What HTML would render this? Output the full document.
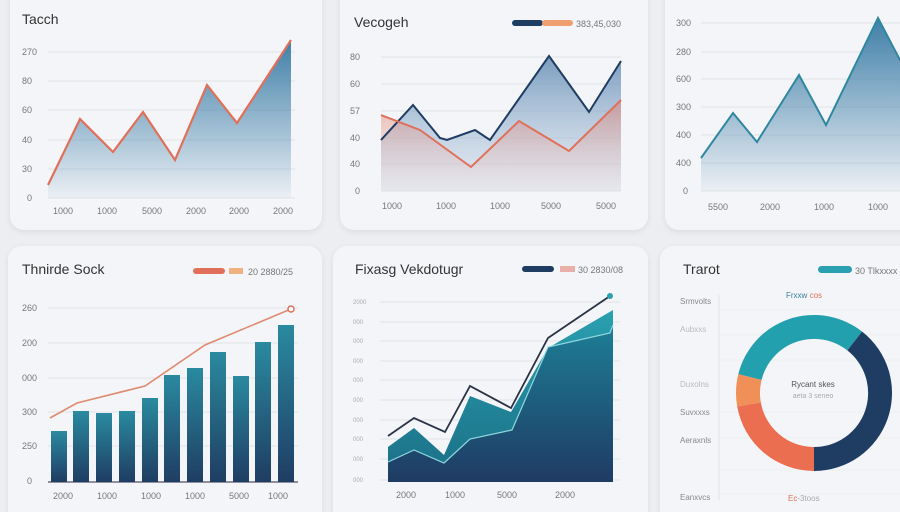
<!DOCTYPE html>
<html><head><meta charset="utf-8"><style>
html,body{margin:0;padding:0;background:#eceef2;}
svg{display:block;font-family:"Liberation Sans",sans-serif;}
</style></head><body>
<svg width="900" height="512" viewBox="0 0 900 512" xmlns="http://www.w3.org/2000/svg">
<defs>
<linearGradient id="gb" x1="0" y1="0" x2="0" y2="1"><stop offset="0" stop-color="#3f7fa8"/><stop offset="1" stop-color="#3f7fa8" stop-opacity="0.05"/></linearGradient>
<linearGradient id="gb2" x1="0" y1="0" x2="0" y2="1"><stop offset="0" stop-color="#5a86b0" stop-opacity="0.8"/><stop offset="1" stop-color="#a8c0da" stop-opacity="0.2"/></linearGradient>
<linearGradient id="gr" x1="0" y1="0" x2="0" y2="1"><stop offset="0" stop-color="#e08070" stop-opacity="0.55"/><stop offset="1" stop-color="#f2c8c0" stop-opacity="0.1"/></linearGradient>
<linearGradient id="gbar" x1="0" y1="0" x2="0" y2="1"><stop offset="0" stop-color="#2a8aa0"/><stop offset="1" stop-color="#1f3d63"/></linearGradient>
<linearGradient id="gt" x1="0" y1="0" x2="0" y2="1"><stop offset="0" stop-color="#2aa0b0"/><stop offset="1" stop-color="#1b6e86"/></linearGradient>
<linearGradient id="gn" x1="0" y1="0" x2="0" y2="1"><stop offset="0" stop-color="#1d7e96"/><stop offset="1" stop-color="#1f3b64"/></linearGradient>
<filter id="sh" x="-5%" y="-5%" width="110%" height="115%"><feDropShadow dx="0" dy="2" stdDeviation="3" flood-color="#000" flood-opacity="0.08"/></filter>
</defs>
<g filter="url(#sh)" fill="#f4f5f8">
<rect x="10" y="-20" width="312" height="250" rx="14"/>
<rect x="340" y="-20" width="308" height="250" rx="14"/>
<rect x="665" y="-20" width="260" height="250" rx="14"/>
<rect x="8" y="246" width="314" height="290" rx="14"/>
<rect x="333" y="246" width="315" height="290" rx="14"/>
<rect x="660" y="246" width="260" height="290" rx="14"/>
</g>
<g font-size="9" fill="#777">
<!-- card 1 -->
<text x="22" y="24" font-size="14" fill="#333">Tacch</text>
<g stroke="#e2e4e8" stroke-width="1"><line x1="48" y1="52" x2="295" y2="52"/><line x1="48" y1="81" x2="295" y2="81"/><line x1="48" y1="110" x2="295" y2="110"/><line x1="48" y1="140" x2="295" y2="140"/><line x1="48" y1="169" x2="295" y2="169"/><line x1="48" y1="198" x2="295" y2="198"/></g>
<text x="22" y="55">270</text><text x="22" y="84">80</text><text x="22" y="113">60</text><text x="22" y="143">40</text><text x="22" y="172">30</text><text x="27" y="201">0</text>
<path d="M48,185 L80,119 L113,152 L143,112 L175,160 L207,85 L237,123 L291,40 L291,198 L48,198Z" fill="url(#gb)"/>
<polyline points="48,185 80,119 113,152 143,112 175,160 207,85 237,123 291,40" fill="none" stroke="#e0705a" stroke-width="2.2"/>
<text x="53" y="214">1000</text><text x="97" y="214">1000</text><text x="142" y="214">5000</text><text x="186" y="214">2000</text><text x="229" y="214">2000</text><text x="273" y="214">2000</text>
<!-- card 2 -->
<text x="354" y="27" font-size="14" fill="#333">Vecogeh</text>
<rect x="512" y="20" width="31" height="6" rx="3" fill="#1f3d63"/><rect x="542" y="20" width="31" height="6" rx="3" fill="#f0a070"/>
<text x="576" y="27">383,45,030</text>
<g stroke="#e2e4e8"><line x1="381" y1="57" x2="621" y2="57"/><line x1="381" y1="84" x2="621" y2="84"/><line x1="381" y1="111" x2="621" y2="111"/><line x1="381" y1="138" x2="621" y2="138"/><line x1="381" y1="164" x2="621" y2="164"/><line x1="381" y1="191" x2="621" y2="191"/></g>
<text x="350" y="60">80</text><text x="350" y="87">60</text><text x="350" y="114">57</text><text x="350" y="141">40</text><text x="350" y="167">40</text><text x="355" y="194">0</text>
<path d="M381,140 L413,105 L440,138 L447,140 L475,130 L490,140 L549,56 L589,112 L621,61 L621,191 L381,191Z" fill="url(#gb2)"/>
<path d="M381,115 L420,130 L471,167 L519,121 L569,151 L621,100 L621,191 L381,191Z" fill="url(#gr)"/>
<polyline points="381,140 413,105 440,138 447,140 475,130 490,140 549,56 589,112 621,61" fill="none" stroke="#1f3d63" stroke-width="2"/>
<polyline points="381,115 420,130 471,167 519,121 569,151 621,100" fill="none" stroke="#e0705a" stroke-width="2"/>
<text x="382" y="209">1000</text><text x="436" y="209">1000</text><text x="490" y="209">1000</text><text x="541" y="209">5000</text><text x="596" y="209">5000</text>
<!-- card 3 -->
<g stroke="#e2e4e8"><line x1="701" y1="23" x2="900" y2="23"/><line x1="701" y1="52" x2="900" y2="52"/><line x1="701" y1="79" x2="900" y2="79"/><line x1="701" y1="107" x2="900" y2="107"/><line x1="701" y1="135" x2="900" y2="135"/><line x1="701" y1="163" x2="900" y2="163"/><line x1="701" y1="191" x2="900" y2="191"/></g>
<text x="676" y="26">300</text><text x="676" y="55">280</text><text x="676" y="82">600</text><text x="676" y="110">300</text><text x="676" y="138">400</text><text x="676" y="166">400</text><text x="683" y="194">0</text>
<path d="M701,158 L733,113 L757,142 L799,75 L826,125 L878,18 L900,60 L900,191 L701,191Z" fill="url(#gb)"/>
<polyline points="701,158 733,113 757,142 799,75 826,125 878,18 900,60" fill="none" stroke="#2f87a0" stroke-width="2"/>
<text x="708" y="210">5500</text><text x="760" y="210">2000</text><text x="814" y="210">1000</text><text x="868" y="210">1000</text>
<!-- card 4 -->
<text x="22" y="274" font-size="14" fill="#333">Thnirde Sock</text>
<rect x="193" y="268" width="32" height="6" rx="3" fill="#e0705a"/><rect x="229" y="268" width="14" height="6" fill="#f0b080"/>
<text x="248" y="275">20 2880/25</text>
<g stroke="#e2e4e8"><line x1="48" y1="308" x2="298" y2="308"/><line x1="48" y1="343" x2="298" y2="343"/><line x1="48" y1="378" x2="298" y2="378"/><line x1="48" y1="412" x2="298" y2="412"/><line x1="48" y1="446" x2="298" y2="446"/></g>
<line x1="48" y1="482" x2="298" y2="482" stroke="#556" stroke-width="1.2"/>
<text x="22" y="311">260</text><text x="22" y="346">200</text><text x="22" y="381">000</text><text x="22" y="415">300</text><text x="22" y="449">250</text><text x="27" y="484">0</text>
<g fill="url(#gbar)">
<rect x="51" y="431" width="16" height="51"/><rect x="73" y="411" width="16" height="71"/><rect x="96" y="413" width="16" height="69"/><rect x="119" y="411" width="16" height="71"/><rect x="142" y="398" width="16" height="84"/><rect x="164" y="375" width="16" height="107"/><rect x="187" y="368" width="16" height="114"/><rect x="210" y="352" width="16" height="130"/><rect x="233" y="376" width="16" height="106"/><rect x="255" y="342" width="16" height="140"/><rect x="278" y="325" width="16" height="157"/>
</g>
<polyline points="50,418 77,403 145,386 205,345 291,309" fill="none" stroke="#e08a70" stroke-width="1.6"/>
<circle cx="291" cy="309" r="3" fill="#fff" stroke="#e0705a" stroke-width="1.5"/>
<text x="53" y="499">2000</text><text x="97" y="499">1000</text><text x="141" y="499">1000</text><text x="185" y="499">1000</text><text x="229" y="499">5000</text><text x="268" y="499">1000</text>
<!-- card 5 -->
<text x="355" y="274" font-size="14" fill="#333">Fixasg Vekdotugr</text>
<rect x="522" y="266" width="32" height="6" rx="3" fill="#1f3d63"/><rect x="560" y="266" width="15" height="6" fill="#e8b0a8"/>
<text x="578" y="273">30 2830/08</text>
<g stroke="#e2e4e8"><line x1="380" y1="302" x2="620" y2="302"/><line x1="380" y1="322" x2="620" y2="322"/><line x1="380" y1="341" x2="620" y2="341"/><line x1="380" y1="361" x2="620" y2="361"/><line x1="380" y1="380" x2="620" y2="380"/><line x1="380" y1="400" x2="620" y2="400"/><line x1="380" y1="420" x2="620" y2="420"/><line x1="380" y1="439" x2="620" y2="439"/><line x1="380" y1="459" x2="620" y2="459"/><line x1="380" y1="480" x2="620" y2="480"/></g>
<g font-size="6" fill="#aaa"><text x="353" y="304">2000</text><text x="353" y="324">000</text><text x="353" y="343">000</text><text x="353" y="363">000</text><text x="353" y="382">000</text><text x="353" y="402">000</text><text x="353" y="422">000</text><text x="353" y="441">000</text><text x="353" y="461">000</text><text x="353" y="482">000</text></g>
<path d="M388,447 L414,428 L444,455 L470,396 L511,412 L548,348 L613,310 L613,482 L388,482Z" fill="url(#gt)"/>
<path d="M388,462 L414,450 L444,463 L470,439 L512,430 L548,347 L610,333 L613,325 L613,482 L388,482Z" fill="url(#gn)"/>
<polyline points="388,462 414,450 444,463 470,439 512,430 548,347 610,333 613,325" fill="none" stroke="#8fd8e0" stroke-width="1.2"/>
<polyline points="388,436 414,418 445,432 470,386 511,408 548,338 610,296" fill="none" stroke="#2a3344" stroke-width="1.8"/>
<circle cx="610" cy="296" r="3" fill="#2aa0b0"/>
<text x="396" y="498">2000</text><text x="445" y="498">1000</text><text x="497" y="498">5000</text><text x="555" y="498">2000</text>
<!-- card 6 -->
<text x="683" y="274" font-size="14" fill="#333">Trarot</text>
<rect x="818" y="266" width="34" height="7" rx="3.5" fill="#2aa0b0"/>
<text x="855" y="274">30 Tlkxxxx</text>
<line x1="719" y1="295" x2="719" y2="500" stroke="#e2e4e8"/>
<g stroke="#eceef1"><line x1="720" y1="310" x2="900" y2="310"/><line x1="720" y1="335" x2="900" y2="335"/><line x1="720" y1="360" x2="900" y2="360"/><line x1="720" y1="412" x2="900" y2="412"/><line x1="720" y1="438" x2="900" y2="438"/><line x1="720" y1="470" x2="900" y2="470"/><line x1="720" y1="494" x2="900" y2="494"/></g>
<g font-size="8" fill="#888"><text x="680" y="304">Srmvolts</text><text x="680" y="332" fill="#bbb">Aubxxs</text><text x="680" y="387" fill="#bbb">Duxolns</text><text x="680" y="415">Suvxxxs</text><text x="680" y="443">Aeraxnls</text><text x="680" y="500">Eanxvcs</text></g>
<text x="786" y="298" font-size="8" fill="#3a7f9a">Frxxw <tspan fill="#e0705a">cos</tspan></text>
<path d="M862,331.5 A78 78 0 0 1 814,471 L814,447 A54 54 0 0 0 847.3,350.4 Z" fill="#1f3d63"/>
<path d="M814,471 A78 78 0 0 1 737.2,406.5 L760.8,402.4 A54 54 0 0 0 814,447 Z" fill="#ec6e50"/>
<path d="M737.2,406.5 A78 78 0 0 1 738.3,374.1 L761.6,379.9 A54 54 0 0 0 760.8,402.4 Z" fill="#f09058"/>
<path d="M738.3,374.1 A78 78 0 0 1 862,331.5 L847.3,350.4 A54 54 0 0 0 761.6,379.9 Z" fill="#23a0ae"/>
<text x="813" y="387" font-size="8" fill="#555" text-anchor="middle">Rycant skes</text>
<text x="813" y="398" font-size="7" fill="#aaa" text-anchor="middle">aeta 3 seneo</text>
<text x="788" y="501" font-size="8" fill="#aaa"><tspan fill="#e0705a">Ec</tspan>-3toos</text>
</g>
</svg>
</body></html>
